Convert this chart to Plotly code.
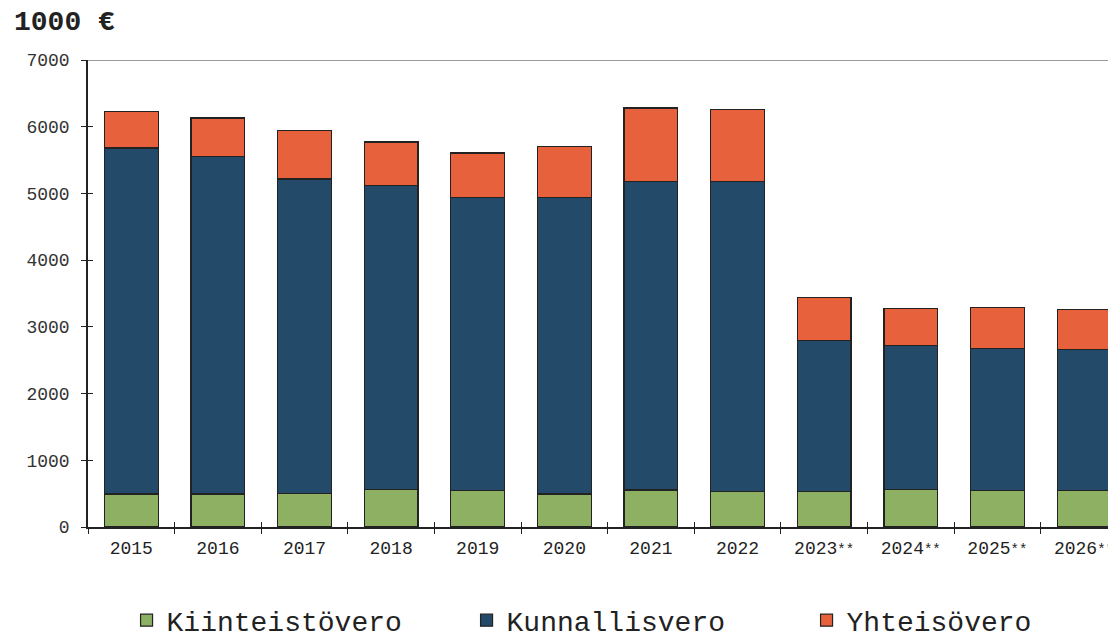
import plotly.graph_objects as go

years = ["2015", "2016", "2017", "2018", "2019", "2020", "2021", "2022",
         "2023**", "2024**", "2025**", "2026**"]
kiinteistovero = [495, 495, 505, 565, 545, 495, 555, 530, 530, 565, 545, 545]
kunnallisvero = [5185, 5060, 4710, 4555, 4400, 4450, 4625, 4650, 2260, 2150, 2135, 2110]
yhteisovero = [550, 575, 730, 650, 660, 760, 1100, 1075, 655, 565, 610, 610]
y_ticks = [0, 1000, 2000, 3000, 4000, 5000, 6000, 7000]

FONT = "Liberation Mono"
GREEN = "#8db063"
BLUE = "#244a6a"
ORANGE = "#e8613d"
EDGE = "#222222"

tick_text = [y.replace("**", "<span style='font-size:14px'>**</span>") for y in years]

fig = go.Figure()
for name, vals, col in [("Kiinteistövero", kiinteistovero, GREEN),
                        ("Kunnallisvero", kunnallisvero, BLUE),
                        ("Yhteisövero", yhteisovero, ORANGE)]:
    fig.add_trace(go.Bar(x=years, y=vals, name=name, width=0.62,
                         marker=dict(color=col, line=dict(color=EDGE, width=1.2))))

# invisible helper trace so that the overlay axes (crossing tick marks) are drawn
fig.add_trace(go.Scatter(x=[], y=[], xaxis="x2", yaxis="y2", showlegend=False,
                         hoverinfo="skip"))

n = len(years)
xr = [-0.5, n - 0.63]
# the page body adds an 8px offset, so the figure is laid out 8px smaller
fig.update_layout(
    width=1108, height=634,
    margin=dict(l=80, r=0, t=52, b=115, autoexpand=False),
    paper_bgcolor="white", plot_bgcolor="white",
    barmode="stack",
    font=dict(family=FONT, color="#222222"),
    xaxis=dict(type="category", range=xr, showgrid=False, zeroline=False,
               showline=True, linecolor="#222222", linewidth=1.5,
               tickvals=years, ticktext=tick_text,
               ticks="outside", tickson="boundaries", ticklen=5, tickcolor="#222222",
               tickfont=dict(family=FONT, size=18, color="#222222"), ticklabelstandoff=4),
    yaxis=dict(range=[0, 7000], tickvals=y_ticks, showgrid=False, zeroline=False,
               showline=True, linecolor="#222222", linewidth=1.5,
               ticks="outside", ticklen=5, tickcolor="#222222", ticklabelstandoff=8,
               tickfont=dict(family=FONT, size=18, color="#333333")),
    xaxis2=dict(overlaying="x", anchor="y", range=xr, showgrid=False, zeroline=False,
                showline=False, showticklabels=False,
                tickvals=[i + 0.5 for i in range(n - 1)],
                ticks="inside", ticklen=5, tickcolor="#222222"),
    yaxis2=dict(overlaying="y", anchor="x", side="left", range=[0, 7000],
                tickvals=y_ticks, showgrid=False, zeroline=False, showline=False,
                showticklabels=False, ticks="inside", ticklen=5, tickcolor="#222222"),
    legend=dict(orientation="h", xref="container", x=0.107, xanchor="left",
                yref="container", y=0.034, yanchor="middle",
                font=dict(family=FONT, size=28, color="#222222"),
                entrywidth=295, traceorder="normal", itemwidth=30),
    shapes=[dict(type="line", xref="paper", x0=0, x1=1, yref="y", y0=7000, y1=7000,
                 line=dict(color="#999999", width=2))],
    annotations=[dict(text="<b>1000 €</b>", xref="paper", yref="paper",
                      x=0, y=1, xshift=-76, yshift=38, xanchor="left", yanchor="middle",
                      showarrow=False, font=dict(family=FONT, size=28, color="#222222"))],
)

fig.write_html("out.html")
